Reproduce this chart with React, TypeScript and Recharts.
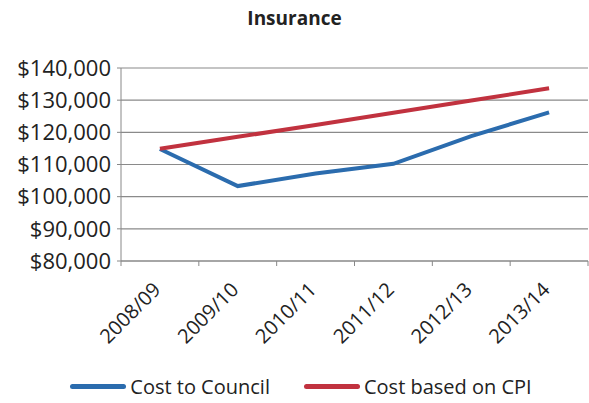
import React from "react";
import { CartesianGrid, Legend, Line, LineChart, XAxis, YAxis } from "recharts";

const years = ["2008/09", "2009/10", "2010/11", "2011/12", "2012/13", "2013/14"];
const costToCouncil = [114800, 103300, 107200, 110200, 118800, 126200];
const costBasedOnCpi = [114900, 118600, 122300, 126100, 129900, 133700];
const yTicks = [80000, 90000, 100000, 110000, 120000, 130000, 140000];

const data = years.map((year, i) => ({
  year,
  council: costToCouncil[i],
  cpi: costBasedOnCpi[i],
}));

const W = 589;
const H = 403;
const AXIS_W = 121;
const RIGHT = 1;
const FONT = "'Open Sans', sans-serif";
const halfBand = (W - AXIS_W - RIGHT) / years.length / 2;

const money = (v: number) => "$" + v.toLocaleString("en-US");

function YearTick(props: any) {
  const { x, y, payload, index } = props;
  return (
    <g>
      <line x1={x - halfBand} x2={x - halfBand} y1={y - 8} y2={y - 3} stroke="#888" />
      {index === years.length - 1 && (
        <line x1={x + halfBand} x2={x + halfBand} y1={y - 8} y2={y - 3} stroke="#888" />
      )}
      <text
        x={x + 2}
        y={y + 22}
        textAnchor="end"
        fontSize={20}
        fontFamily={FONT}
        fill="#222"
        transform={`rotate(-45, ${x + 2}, ${y + 22})`}
      >
        {payload.value}
      </text>
    </g>
  );
}

function LegendContent() {
  const items = [
    { label: "Cost to Council", color: "#2b6cae" },
    { label: "Cost based on CPI", color: "#c1323f" },
  ];
  return (
    <div style={{ display: "flex", justifyContent: "center", gap: 34, paddingLeft: 14, fontFamily: FONT, fontSize: 20, color: "#222" }}>
      {items.map((it) => (
        <div key={it.label} style={{ display: "flex", alignItems: "center" }}>
          <span style={{ display: "inline-block", width: 56, height: 5, borderRadius: 3, background: it.color, marginRight: 4 }} />
          {it.label}
        </div>
      ))}
    </div>
  );
}

export default function App() {
  return (
    <div style={{ position: "absolute", left: 0, top: 0, width: W, height: H, background: "#fff" }}>
      <div style={{ position: "absolute", top: 5, left: 0, width: W, textAlign: "center", fontFamily: FONT, fontWeight: 700, fontSize: 19, color: "#222" }}>
        Insurance
      </div>
      <LineChart width={W} height={H} data={data} margin={{ top: 68, right: RIGHT, left: 0, bottom: 3 }}>
        <CartesianGrid vertical={false} stroke="#8a8a8a" strokeWidth={1.2} />
        <XAxis
          dataKey="year"
          scale="band"
          tick={<YearTick />}
          tickLine={false}
          axisLine={{ stroke: "#888" }}
          height={112}
          interval={0}
        />
        <YAxis
          width={AXIS_W}
          domain={[80000, 140000]}
          ticks={yTicks}
          tickFormatter={money}
          tick={{ fontSize: 22, fontFamily: FONT, fill: "#222" }}
          tickLine={{ stroke: "#888" }}
          tickSize={4}
          tickMargin={6}
          axisLine={{ stroke: "#888" }}
        />
        <Legend verticalAlign="bottom" content={<LegendContent />} />
        <Line dataKey="council" name="Cost to Council" stroke="#2b6cae" strokeWidth={4} dot={false} isAnimationActive={false} />
        <Line dataKey="cpi" name="Cost based on CPI" stroke="#c1323f" strokeWidth={4} dot={false} isAnimationActive={false} />
      </LineChart>
    </div>
  );
}
